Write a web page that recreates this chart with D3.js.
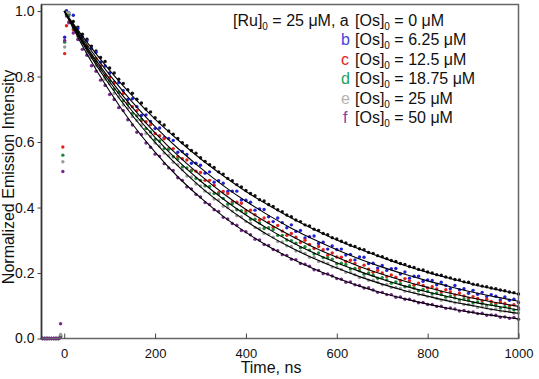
<!DOCTYPE html>
<html><head><meta charset="utf-8">
<script src="https://cdn.jsdelivr.net/npm/d3@7"></script>
<style>body{margin:0;background:#fff}svg{display:block}text{font-family:"Liberation Sans",Arial,sans-serif}</style>
</head><body><svg id="c" width="539" height="379"></svg>
<script>
// ---- data ----
const riseTimes = [-48,-44,-40,-36,-32,-28,-24,-20,-16,-12,-8,-3,1,5];
const riseA = [0,0,0,0,0,0,0,0,0,0,0.005,null,null,1.0];
const riseB = [0,0,0,0,0,0,0,0,0,0,0.005,null,0.92,1.0];
const riseC = [0,0,0,0,0,0,0,0,0,0,0.008,0.585,0.87,0.955];
const riseD = [0,0,0,0,0,0,0,0,0,0,0.01,0.56,0.905,0.99];
const riseE = [0,0,0,0,0,0,0,0,0,0,0.012,0.54,0.89,0.995];
const riseF = [0,0,0,0,0,0,0,0,0,0,0.045,0.51,0.91,0.985];
const decayTimes = d3.range(10, 1001, 10); // sampling grid, ns
const decayA = [
.990,.968,.951,.929,.914,.893,.878,.858,.846,.826,
.811,.792,.779,.760,.749,.731,.719,.701,.692,.674,
.661,.652,.634,.624,.611,.598,.589,.574,.566,.552,
.541,.531,.522,.509,.502,.489,.482,.470,.463,.452,
.443,.436,.424,.420,.409,.403,.393,.387,.377,.372,
.362,.357,.347,.344,.334,.330,.321,.317,.308,.304,
.297,.292,.285,.281,.274,.271,.263,.260,.253,.250,
.244,.238,.235,.229,.226,.220,.217,.211,.209,.203,
.200,.195,.193,.188,.185,.180,.179,.173,.172,.166,
.164,.160,.158,.154,.152,.148,.146,.142,.140,.136];
const decayB = [
.995,.987,.947,.922,.909,.886,.874,.844,.832,.811,
.783,.782,.757,.730,.732,.708,.681,.683,.663,.641,
.643,.613,.611,.605,.569,.571,.562,.535,.535,.529,
.505,.509,.477,.482,.474,.449,.450,.450,.423,.422,
.416,.392,.396,.394,.372,.357,.368,.354,.338,.347,
.327,.330,.307,.311,.313,.290,.294,.273,.283,.272,
.273,.255,.257,.240,.249,.248,.229,.230,.215,.223,
.208,.213,.214,.197,.203,.184,.190,.190,.175,.179,
.177,.164,.172,.162,.152,.162,.149,.152,.138,.147,
.135,.141,.128,.134,.129,.118,.127,.117,.120,.110];
const decayC = [
.967,.943,.937,.905,.893,.862,.855,.832,.804,.797,
.780,.752,.748,.719,.708,.696,.666,.662,.653,.626,
.619,.610,.580,.580,.555,.549,.545,.514,.511,.507,
.483,.483,.468,.445,.449,.443,.418,.416,.413,.390,
.392,.378,.362,.368,.355,.340,.345,.328,.315,.321,
.309,.293,.300,.287,.275,.281,.271,.254,.261,.249,
.248,.235,.239,.229,.215,.224,.212,.202,.208,.200,
.189,.194,.187,.177,.183,.176,.163,.169,.162,.154,
.158,.151,.142,.149,.142,.133,.138,.130,.123,.128,
.122,.115,.120,.113,.106,.111,.107,.099,.103,.094];
const decayD = [
.986,.949,.936,.904,.887,.859,.847,.824,.797,.787,
.761,.752,.726,.716,.687,.680,.669,.641,.631,.608,
.603,.580,.578,.555,.548,.524,.521,.512,.489,.483,
.466,.464,.443,.441,.428,.410,.412,.393,.390,.383,
.364,.364,.353,.336,.338,.333,.315,.315,.301,.299,
.291,.277,.280,.270,.258,.261,.247,.247,.242,.228,
.230,.226,.212,.214,.207,.196,.200,.193,.184,.186,
.179,.169,.173,.167,.158,.161,.154,.146,.150,.144,
.137,.139,.134,.126,.130,.124,.118,.121,.116,.109,
.112,.107,.101,.104,.101,.093,.097,.093,.087,.089];
const decayE = [
.995,.955,.922,.906,.875,.861,.833,.819,.792,.778,
.749,.738,.713,.704,.678,.666,.652,.626,.617,.597,
.588,.566,.559,.538,.531,.515,.496,.493,.472,.466,
.450,.444,.426,.423,.404,.400,.389,.375,.372,.357,
.353,.339,.336,.321,.318,.309,.296,.295,.283,.281,
.267,.266,.260,.248,.248,.235,.234,.229,.218,.217,
.211,.202,.202,.195,.186,.187,.178,.178,.172,.164,
.165,.156,.156,.153,.144,.145,.140,.134,.135,.128,
.128,.123,.117,.118,.114,.109,.111,.104,.104,.101,
.095,.097,.094,.089,.090,.084,.084,.083,.077,.078];
const decayF = [
.964,.933,.913,.883,.865,.833,.816,.789,.773,.745,
.730,.705,.696,.668,.652,.630,.623,.597,.584,.563,
.557,.534,.521,.513,.491,.483,.463,.457,.440,.432,
.415,.409,.393,.388,.370,.365,.351,.346,.330,.326,
.317,.303,.301,.287,.284,.272,.268,.256,.254,.242,
.241,.229,.227,.221,.210,.208,.198,.197,.191,.183,
.181,.172,.173,.164,.162,.154,.155,.148,.141,.141,
.134,.134,.126,.127,.120,.120,.115,.109,.110,.104,
.104,.098,.099,.092,.093,.090,.084,.086,.081,.081,
.076,.077,.071,.072,.071,.065,.066,.062,.064,.059];
const fitTimes = [0,50,100,150,200,250,300,350,400,450,500,550,600,650,700,750,800,850,900,950,1000];
const fitA = [1,.905,.819,.741,.670,.607,.549,.497,.449,.407,.368,.333,.301,.273,.247,.223,.202,.183,.165,.150,.135];
const fitB = [1,.897,.805,.722,.647,.581,.521,.467,.419,.376,.337,.302,.271,.243,.218,.196,.176,.158,.141,.127,.114];
const fitC = [1,.890,.793,.706,.628,.559,.498,.443,.394,.351,.313,.278,.248,.220,.196,.175,.156,.138,.123,.110,.098];
const fitD = [1,.885,.784,.694,.614,.543,.481,.426,.377,.334,.295,.261,.231,.205,.181,.160,.142,.126,.111,.099,.087];
const fitE = [1,.880,.774,.681,.599,.527,.463,.408,.359,.315,.277,.244,.215,.189,.166,.146,.129,.113,.100,.087,.077];
const fitF = [1,.869,.755,.655,.569,.494,.430,.373,.324,.281,.244,.212,.185,.160,.139,.121,.105,.091,.079,.069,.060];
const seriesLetters = ["a","b","c","d","e","f"];
const legendConc = ["0","6.25","12.5","18.75","25","50"];
const xTicks = [0,200,400,600,800,1000];
const yTicks = [0,0.2,0.4,0.6,0.8,1.0];

// ---- styles ----
const dotColors = ["#111111","#2222d4","#e3221c","#1b8a35","#9c9c9c","#76288c"];
const letterColors = ["#111111","#4646e0","#e62020","#1fa060","#b4b4b4","#8040a4"];

const svg = d3.select("#c");
const L=41.5, R=518.5, T=4.5, B=338.5;
const x = d3.scaleLinear().domain([-50,1000]).range([L,R]);
const y = d3.scaleLinear().domain([0,1.02]).range([B,T]);

const rises=[riseA,riseB,riseC,riseD,riseE,riseF];
const decays=[decayA,decayB,decayC,decayD,decayE,decayF];
const fits=[fitA,fitB,fitC,fitD,fitE,fitF];
const allTimes = riseTimes.concat(decayTimes);

const gDots = svg.append("g");
rises.forEach((rs,i)=>{
  const vals = rs.concat(decays[i]);
  const pts = allTimes.map((t,k)=>({t,v:vals[k]})).filter(d=>d.v!=null);
  gDots.append("g").selectAll("circle").data(pts).join("circle")
    .attr("cx",d=>x(d.t)).attr("cy",d=>y(d.v)).attr("r",1.7)
    .attr("fill",dotColors[i]);
});

const line = d3.line().x(d=>x(d.t)).y(d=>y(d.v)).curve(d3.curveMonotoneX);
fits.forEach(f=>{
  svg.append("path").datum(fitTimes.map((t,k)=>({t,v:f[k]})))
    .attr("d",line).attr("fill","none").attr("stroke","#000").attr("stroke-width",1.1);
});

// frame
svg.append("rect").attr("x",L).attr("y",T).attr("width",R-L).attr("height",B-T)
  .attr("fill","none").attr("stroke","#666").attr("stroke-width",1.5);
svg.append("line").attr("x1",L).attr("x2",L).attr("y1",T).attr("y2",B).attr("stroke","#333").attr("stroke-width",1.5);

// x axis (ticks inside)
const xa = svg.append("g").attr("transform",`translate(0,${B})`)
  .call(d3.axisBottom(x).tickValues(xTicks).tickFormat(d3.format("d")).tickSizeInner(-5).tickSizeOuter(0).tickPadding(10));
xa.select(".domain").remove();
xa.selectAll("line").attr("stroke","#444");
xa.selectAll("text").attr("font-size",13).attr("fill","#111").attr("font-family","Liberation Sans, Arial, sans-serif");

const ya = svg.append("g").attr("transform",`translate(${L},0)`)
  .call(d3.axisLeft(y).tickValues(yTicks).tickFormat(d3.format(".1f")).tickSizeInner(4).tickSizeOuter(0).tickPadding(3));
ya.select(".domain").remove();
ya.selectAll("line").attr("stroke","#444");
ya.selectAll("text").attr("font-size",14).attr("fill","#111").attr("font-family","Liberation Sans, Arial, sans-serif");

svg.append("text").attr("x",271).attr("y",373).attr("text-anchor","middle").attr("font-size",16).attr("fill","#111").text("Time, ns");
svg.append("text").attr("transform","translate(13.5,177) rotate(-90)").attr("text-anchor","middle").attr("font-size",16).attr("fill","#111").text("Normalized Emission Intensity");

// legend
const lg = svg.append("g").attr("font-size",16).attr("fill","#111");
const rowY = i=>25.5+i*19.5;
const t0 = lg.append("text").attr("x",233).attr("y",rowY(0));
t0.append("tspan").text("[Ru]");
t0.append("tspan").attr("font-size",10).attr("dy",4).text("0");
t0.append("tspan").attr("dy",-4).text(" = 25 μM, ");
t0.append("tspan").attr("fill",letterColors[0]).text("a");
seriesLetters.forEach((s,i)=>{
  if(i>0){
    lg.append("text").attr("x",341+(s==="f"?2:0)).attr("y",rowY(i)).attr("fill",letterColors[i]).text(s);
  }
  const tt = lg.append("text").attr("x",355).attr("y",rowY(i));
  tt.append("tspan").text("[Os]");
  tt.append("tspan").attr("font-size",10).attr("dy",4).text("0");
  tt.append("tspan").attr("dy",-4).text(" = "+legendConc[i]+" μM");
});
</script></body></html>
